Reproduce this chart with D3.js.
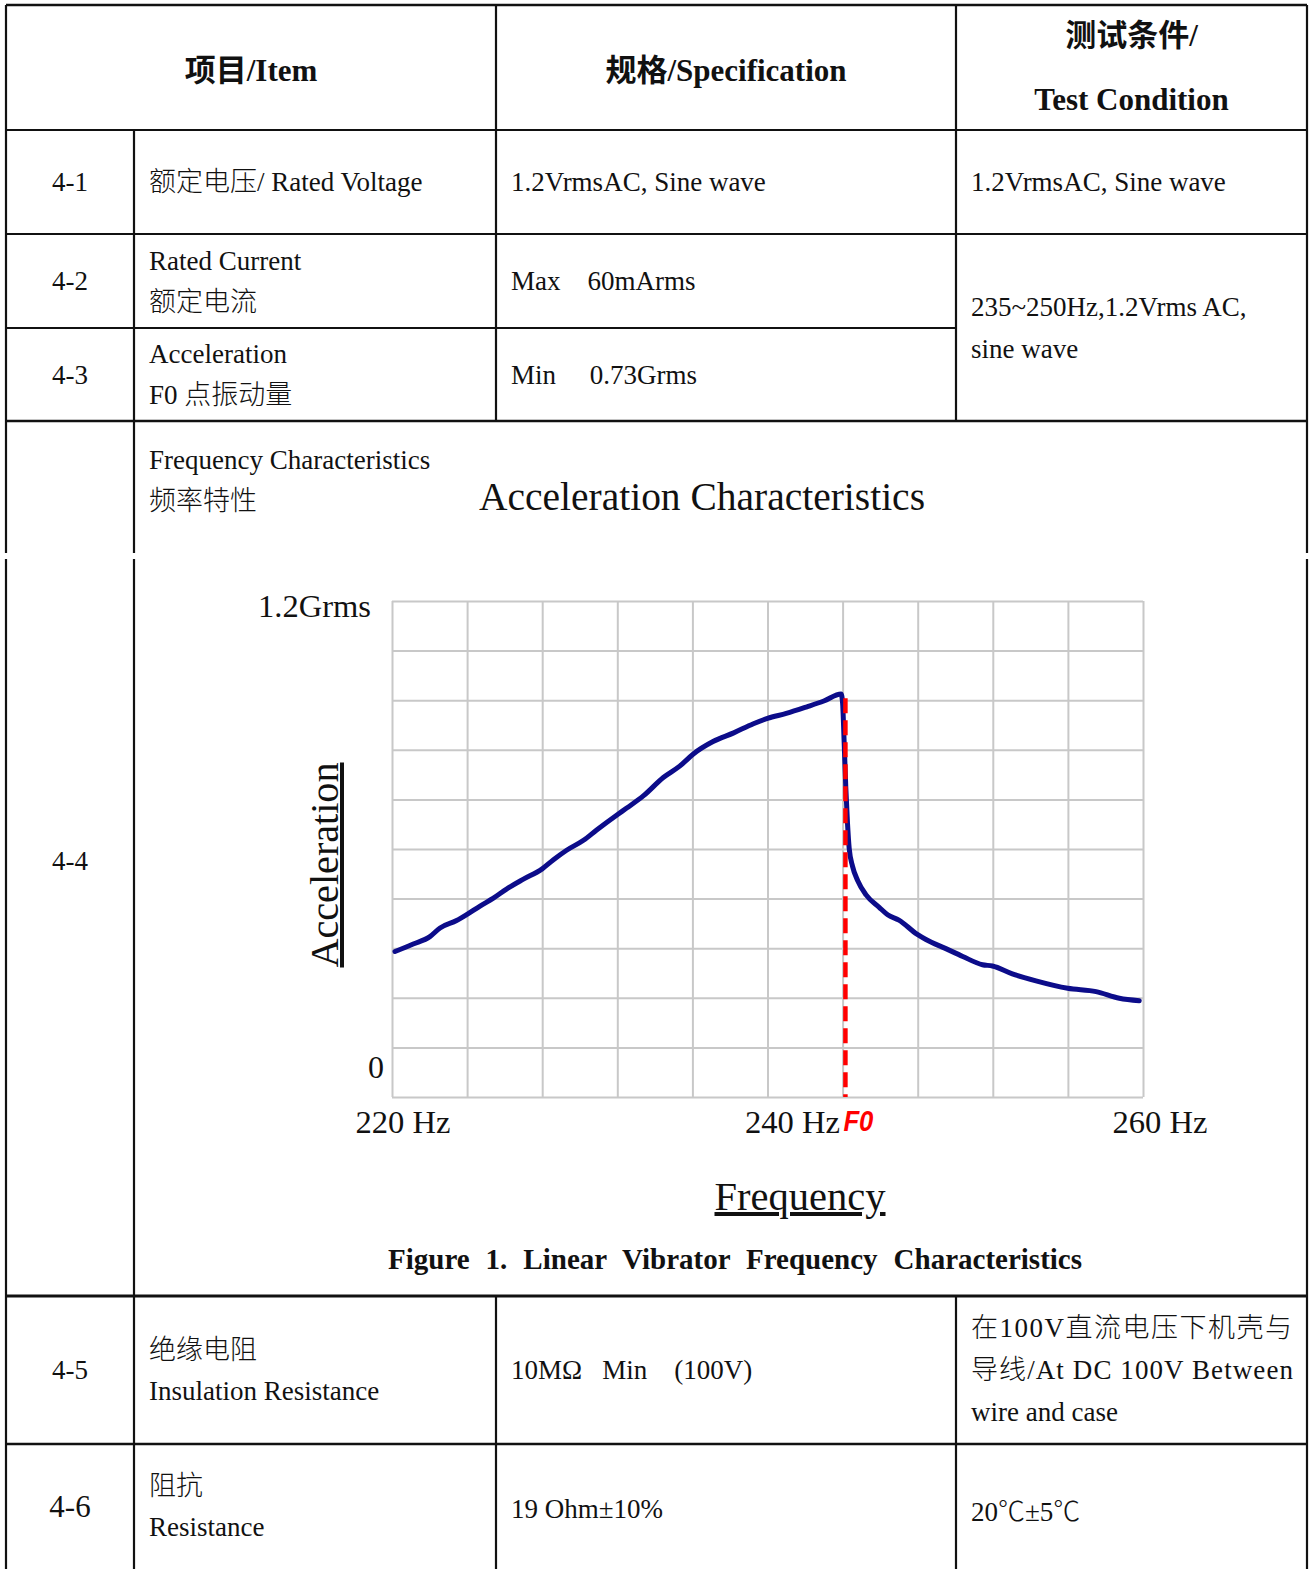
<!DOCTYPE html>
<html>
<head>
<meta charset="utf-8">
<script src="https://cdn.jsdelivr.net/npm/d3@7"></script>
<style>
  body { margin: 0; background: #fff; }
  svg { display: block; }
  text { fill: #111; }
  .grid line { stroke: #c8c8c8; stroke-width: 2; }
  .grid path { display: none; }
</style>
</head>
<body>
<div id="chart"></div>
<script>
// ---- data ----
const freqHz = [220.16, 221.13, 222.02, 222.56, 223.44, 224.0, 224.69, 225.4, 226.1, 227.0,
  228.0, 228.6, 229.3, 230.2, 230.9, 232.0, 232.5, 233.4, 234.45, 235.34,
  236.05, 237.1, 238.2, 239.25, 240.0, 241.0, 242.1, 243.0, 243.92, 244.0,
  244.08, 244.17, 244.26, 244.35, 244.53, 244.8, 245.25, 245.95, 246.4, 247.0,
  247.96, 248.44, 249.5, 250.4, 251.45, 251.98, 253.04, 254.3, 255.99, 257.5,
  258.74, 259.8]
const accelG = [0.352, 0.370, 0.388, 0.409, 0.427, 0.442, 0.462, 0.481, 0.503, 0.527,
  0.552, 0.574, 0.597, 0.621, 0.646, 0.683, 0.699, 0.729, 0.773, 0.801,
  0.830, 0.860, 0.881, 0.903, 0.916, 0.928, 0.944, 0.958, 0.975, 0.953,
  0.862, 0.749, 0.663, 0.602, 0.558, 0.524, 0.489, 0.459, 0.441, 0.428,
  0.394, 0.381, 0.359, 0.340, 0.320, 0.317, 0.298, 0.281, 0.263, 0.255,
  0.239, 0.233]
const f0Hz = 244.15
const f0TopG = 0.965
const xTicks = [220, 240, 260]
const xTickLabels = ["220 Hz", "240 Hz", "260 Hz"]
const yTicks = [1.2, 0]
const yTickLabels = ["1.2Grms", "0"]
const gridX = d3.range(220, 260.001, 4)
const gridY = d3.range(0, 1.2001, 0.12)

// table texts
const headItem = "项目/Item"
const headSpec = "规格/Specification"
const headCond = ["测试条件/", "Test Condition"]
const itemNos = ["4-1", "4-2", "4-3", "4-4", "4-5", "4-6"]
const itemNames = [["额定电压/ Rated Voltage"], ["Rated Current", "额定电流"], ["Acceleration", "F0 点振动量"],
  ["Frequency Characteristics", "频率特性"], ["绝缘电阻", "Insulation Resistance"], ["阻抗", "Resistance"]]
const specs = [["1.2VrmsAC, Sine wave"], ["Max\u00a0\u00a0\u00a0\u00a060mArms"], ["Min\u00a0\u00a0\u00a0\u00a0\u00a00.73Grms"],
  [], ["10MΩ\u00a0\u00a0\u00a0Min\u00a0\u00a0\u00a0\u00a0(100V)"], ["19 Ohm±10%"]]
const conds = [["1.2VrmsAC, Sine wave"], ["235~250Hz,1.2Vrms AC,", "sine wave"], null,
  [], ["在100V直流电压下机壳与", "导线/At DC 100V Between", "wire and case"], ["20℃±5℃"]]

const chartTitle = "Acceleration Characteristics"
const yTitle = "Acceleration"
const xTitle = "Frequency"
const figCaption = "Figure 1. Linear Vibrator Frequency Characteristics"
const f0Label = "F0"

// ---- layout ----
const width = 1311
const height = 1569
const cols = [6, 134, 496, 956, 1307]
const rows = [5, 130, 234, 328, 421, 1296, 1444, 1569]
const gapY = [553, 559]
const SERIF = "'Liberation Serif', 'Times New Roman', 'Noto Sans CJK SC', serif"

const svg = d3.select("#chart").append("svg").attr("width", width).attr("height", height)
const lines = svg.append("g").attr("stroke", "#111").attr("stroke-width", 2.2)

const hline = (y, x1, x2, w) => lines.append("line").attr("x1", x1).attr("x2", x2).attr("y1", y).attr("y2", y).attr("stroke-width", w || 2.2)
const vline = (x, y1, y2) => lines.append("line").attr("x1", x).attr("x2", x).attr("y1", y1).attr("y2", y2)

//horizontales
hline(rows[0], cols[0], cols[4], 2.6)
hline(rows[1], cols[0], cols[4])
hline(rows[2], cols[0], cols[4])
hline(rows[3], cols[0], cols[3])
hline(rows[4], cols[0], cols[4], 2.6)
hline(rows[5], cols[0], cols[4], 3)
hline(rows[6], cols[0], cols[4], 2.6)

//verticales
;[cols[0], cols[4]].forEach(x => { vline(x, rows[0], gapY[0]); vline(x, gapY[1], rows[7]) })
vline(cols[1], rows[1], gapY[0]); vline(cols[1], gapY[1], rows[7])
;[cols[2], cols[3]].forEach(x => { vline(x, rows[0], rows[4]); vline(x, rows[5], rows[7]) })

// text helper: lines centred vertically on yc
function cell(x, yc, txt, opt) {
  opt = opt || {}
  const size = opt.size || 27
  const lh = opt.lh || 41
  const g = svg.append("g")
  txt.forEach((t, i) => {
    const el = g.append("text")
      .attr("font-family", SERIF)
      .attr("x", x)
      .attr("y", yc + (i - (txt.length - 1) / 2) * lh + size * 0.35)
      .attr("font-size", size)
      .attr("text-anchor", opt.anchor || "start")
      .attr("font-weight", opt.bold ? "bold" : 300)
      .text(t)
    if (opt.lengths && opt.lengths[i]) el.attr("textLength", opt.lengths[i]).attr("lengthAdjust", "spacing")
  })
  return g
}

// header
cell((cols[0] + cols[2]) / 2, 70, [headItem], { size: 31, bold: true, anchor: "middle" })
cell((cols[2] + cols[3]) / 2, 70, [headSpec], { size: 31, bold: true, anchor: "middle" })
cell((cols[3] + cols[4]) / 2, 67, headCond, { size: 31, bold: true, anchor: "middle", lh: 64 })

// body rows
const rowCentre = i => (rows[i + 1] + rows[i + 2]) / 2
itemNos.forEach((n, i) => {
  const yc = i === 3 ? 861 : rowCentre(i)
  cell((cols[0] + cols[1]) / 2, yc, [n], { anchor: "middle", size: i === 5 ? 31 : 27 })
})
itemNames.forEach((t, i) => {
  const yc = i === 3 ? 480 : rowCentre(i)
  cell(149, yc, t, { lh: 41 })
})
specs.forEach((t, i) => { if (t.length) cell(511, rowCentre(i) + (i === 5 ? 2 : 0), t) })
conds.forEach((t, i) => {
  if (!t || !t.length) return
  let yc = rowCentre(i)
  if (i === 1) yc = (rows[2] + rows[4]) / 2
  if (i === 5) yc += 5
  cell(971, yc, t, { lh: 42, lengths: i === 4 ? [321, 322, null] : null })
})

// ---- chart ----
const x = d3.scaleLinear().domain([220, 260]).range([392, 1143])
const y = d3.scaleLinear().domain([0, 1.2]).range([1097, 601])

const plot = svg.append("g").attr("id", "plot").attr("font-family", SERIF)

plot.append("g").attr("class", "grid")
  .attr("transform", `translate(0, ${y(0)})`)
  .call(d3.axisBottom(x).tickValues(gridX).tickSize(-(y(0) - y(1.2))).tickFormat(""))
plot.append("g").attr("class", "grid")
  .attr("transform", `translate(${x(220)}, 0)`)
  .call(d3.axisLeft(y).tickValues(gridY).tickSize(-(x(260) - x(220))).tickFormat(""))

const data = freqHz.map((f, i) => ({ f: f, g: accelG[i] }))
const line = d3.line().x(d => x(d.f)).y(d => y(d.g)).curve(d3.curveMonotoneX)
plot.append("path").datum(data)
  .attr("d", line)
  .attr("fill", "none")
  .attr("stroke", "#0c0c8a")
  .attr("stroke-width", 5)
  .attr("stroke-linejoin", "round")
  .attr("stroke-linecap", "round")

plot.append("line")
  .attr("x1", x(f0Hz)).attr("x2", x(f0Hz))
  .attr("y1", y(f0TopG)).attr("y2", y(0))
  .attr("stroke", "#ff0000")
  .attr("stroke-width", 4.5)
  .attr("stroke-dasharray", "15,7")

// tick labels
const xTickShift = [11, 25, 17]
xTicks.forEach((v, i) => {
  plot.append("text")
    .attr("font-family", SERIF)
    .attr("x", x(v) + xTickShift[i]).attr("y", 1133)
    .attr("text-anchor", "middle").attr("font-size", 32)
    .attr("textLength", 95).attr("lengthAdjust", "spacingAndGlyphs")
    .text(xTickLabels[i])
})
plot.append("text")
  .attr("font-family", SERIF)
  .attr("x", 371).attr("y", y(yTicks[0]) + 16)
  .attr("text-anchor", "end").attr("font-size", 32)
  .attr("textLength", 113).attr("lengthAdjust", "spacingAndGlyphs")
  .text(yTickLabels[0])
plot.append("text")
  .attr("font-family", SERIF)
  .attr("x", 384).attr("y", y(yTicks[1]) - 19)
  .attr("text-anchor", "end").attr("font-size", 32)
  .text(yTickLabels[1])

plot.append("text")
  .attr("x", x(f0Hz) - 2).attr("y", 1131)
  .attr("font-family", "'Liberation Sans', Arial, sans-serif")
  .attr("font-weight", "bold").attr("font-style", "italic")
  .attr("font-size", 30).style("fill", "#ff0000")
  .attr("textLength", 30).attr("lengthAdjust", "spacingAndGlyphs")
  .text(f0Label)

// titles
plot.append("text")
  .attr("font-family", SERIF)
  .attr("x", 479).attr("y", 510).attr("font-size", 40)
  .attr("textLength", 446).attr("lengthAdjust", "spacingAndGlyphs")
  .text(chartTitle)

plot.append("text")
  .attr("font-family", SERIF)
  .attr("transform", "translate(338, 865) rotate(-90)")
  .attr("text-anchor", "middle").attr("font-size", 40)
  .attr("textLength", 205).attr("lengthAdjust", "spacingAndGlyphs")
  .attr("text-decoration", "underline")
  .text(yTitle)

plot.append("text")
  .attr("font-family", SERIF)
  .attr("x", 800).attr("y", 1210)
  .attr("text-anchor", "middle").attr("font-size", 40)
  .attr("textLength", 171).attr("lengthAdjust", "spacingAndGlyphs")
  .attr("text-decoration", "underline")
  .text(xTitle)

// caption: widen the gaps between words, not between letters
const caption = plot.append("text")
  .attr("font-family", SERIF)
  .attr("x", 388).attr("y", 1269)
  .attr("font-size", 29).attr("font-weight", "bold")
  .text(figCaption)
const natural = caption.node().getComputedTextLength()
const gaps = figCaption.split(" ").length - 1
caption.attr("word-spacing", Math.max(0, (694 - natural) / gaps))
</script>
</body>
</html>
